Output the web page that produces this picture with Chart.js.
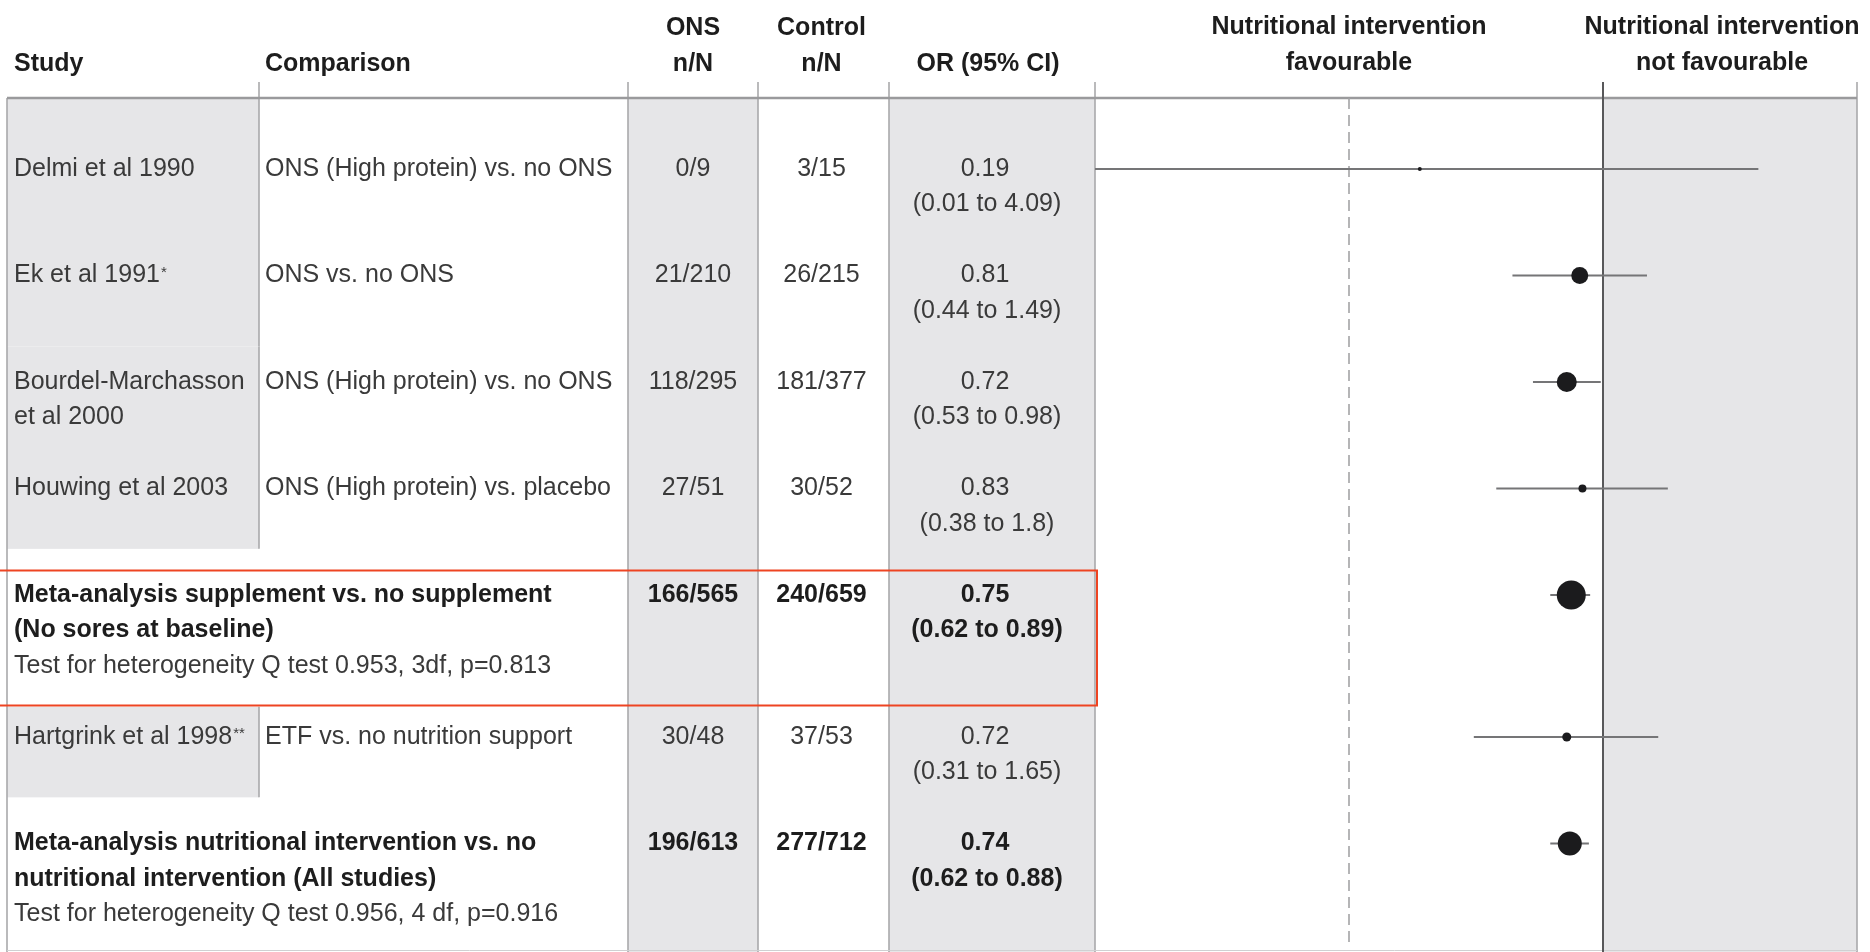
<!DOCTYPE html>
<html>
<head>
<meta charset="utf-8">
<script src="https://cdn.jsdelivr.net/npm/chart.js@4.4.0/dist/chart.umd.min.js"></script>
<style>
html,body{margin:0;padding:0;background:#fff;overflow:hidden}
canvas{display:block}
</style>
</head>
<body>
<canvas id="c" width="1870" height="952"></canvas>
<script>
// ---------- data ----------
const studies = [
  "Delmi et al 1990",
  "Ek et al 1991*",
  "Bourdel-Marchasson\net al 2000",
  "Houwing et al 2003",
  "Meta-analysis supplement vs. no supplement\n(No sores at baseline)",
  "Hartgrink et al 1998**",
  "Meta-analysis nutritional intervention vs. no\nnutritional intervention (All studies)"
];
const comparisons = [
  "ONS (High protein) vs. no ONS",
  "ONS vs. no ONS",
  "ONS (High protein) vs. no ONS",
  "ONS (High protein) vs. placebo",
  "",
  "ETF vs. no nutrition support",
  ""
];
const heterogeneity = [
  null, null, null, null,
  "Test for heterogeneity Q test 0.953, 3df, p=0.813",
  null,
  "Test for heterogeneity Q test 0.956, 4 df, p=0.916"
];
const isSummary = [false, false, false, false, true, false, true];
const onsN = ["0/9", "21/210", "118/295", "27/51", "166/565", "30/48", "196/613"];
const controlN = ["3/15", "26/215", "181/377", "30/52", "240/659", "37/53", "277/712"];
const orValue = [0.19, 0.81, 0.72, 0.83, 0.75, 0.72, 0.74];
const ciLow = [0.01, 0.44, 0.53, 0.38, 0.62, 0.31, 0.62];
const ciHigh = [4.09, 1.49, 0.98, 1.8, 0.89, 1.65, 0.88];
const headerCols = ["Study", "Comparison", "ONS\nn/N", "Control\nn/N", "OR (95% CI)"];
const sideHeaders = ["Nutritional intervention\nfavourable", "Nutritional intervention\nnot favourable"];

// ---------- layout (text-line units on the y scale) ----------
const rowLines = studies.map((s, i) => Math.max(s.split("\n").length, 2) + (heterogeneity[i] ? 1 : 0));
const rowPos = [];
{ let acc = 0; rowLines.forEach(n => { rowPos.push(acc); acc += n + 1; }); }

const COL = { left: 7, comp: 259, ons: 628, ctrl: 758, or: 889 };
const GREY = "#e6e6e8";
const LINE = "#a9a9ab";
const FONT = '"Liberation Sans", Arial, Helvetica, sans-serif';
const fReg = "25px " + FONT;
const fBold = "bold 25px " + FONT;
const fHead = "bold 25px " + FONT;
const cReg = "#3a3a3a";
const cBold = "#1d1d1d";

function drawText(ctx, s, x, y, align, font, color) {
  ctx.font = font; ctx.fillStyle = color; ctx.textAlign = align; ctx.textBaseline = "middle";
  const m = s.match(/^(.*?)(\*+)$/);
  if (m && align === "left") {
    ctx.fillText(m[1], x, y);
    const w = ctx.measureText(m[1]).width;
    ctx.font = "15px " + FONT;
    ctx.fillText(m[2], x + w + 1, y - 3);
  } else {
    ctx.fillText(s, x, y);
  }
}
function vline(ctx, x, y0, y1, color, w) {
  ctx.beginPath(); ctx.strokeStyle = color; ctx.lineWidth = w;
  ctx.moveTo(x, y0); ctx.lineTo(x, y1); ctx.stroke();
}

const tablePlugin = {
  id: "table",
  beforeDraw(chart) {
    const ctx = chart.ctx, ca = chart.chartArea;
    const xs = chart.scales.x, ys = chart.scales.y;
    const W = chart.width, H = chart.height;
    const top = ca.top, bottom = H;
    const x1 = xs.getPixelForValue(1);
    const plotL = ca.left, plotR = ca.right;
    const yp = v => ys.getPixelForValue(v);
    const n = studies.length;
    ctx.save();
    ctx.fillStyle = "#fff"; ctx.fillRect(0, 0, W, H);
    // column fills
    ctx.fillStyle = GREY;
    ctx.fillRect(COL.ons, top, COL.ctrl - COL.ons, bottom - top);
    ctx.fillRect(COL.or, top, plotL - COL.or, bottom - top);
    ctx.fillRect(x1, top, plotR - x1, bottom - top);
    // study cells (regular studies, contiguous when adjacent)
    studies.forEach((s, i) => {
      if (isSummary[i]) return;
      let t, b;
      if (i === 0) t = top;
      else if (!isSummary[i - 1]) t = yp(rowPos[i] - 1);
      else t = yp(rowPos[i] - 0.85);
      if (i + 1 < n && !isSummary[i + 1]) b = yp(rowPos[i + 1] - 1);
      else b = yp(rowPos[i] + rowLines[i] - 0.3);
      ctx.fillStyle = GREY;
      ctx.fillRect(COL.left, t, COL.comp - COL.left, b - t);
      vline(ctx, COL.comp, t, b, LINE, 1.6);
    });
    // vertical rules
    vline(ctx, COL.comp, 82, top, LINE, 1.6);
    vline(ctx, COL.left, top, bottom, LINE, 1.6);
    [COL.ons, COL.ctrl, COL.or, plotL, plotR].forEach(x => vline(ctx, x, 82, bottom, LINE, 1.6));
    // header rule
    ctx.beginPath(); ctx.strokeStyle = "#9a9a9c"; ctx.lineWidth = 2.5;
    ctx.moveTo(COL.left, top); ctx.lineTo(plotR, top); ctx.stroke();
    // bottom rule
    ctx.beginPath(); ctx.strokeStyle = "#d0d0d2"; ctx.lineWidth = 1;
    ctx.moveTo(COL.left, bottom - 1.5); ctx.lineTo(plotR, bottom - 1.5); ctx.stroke();

    // header text
    const hx = [[14, "left"], [265, "left"], [(COL.ons + COL.ctrl) / 2, "center"], [(COL.ctrl + COL.or) / 2 - 2, "center"], [(COL.or + plotL) / 2 - 4, "center"]];
    headerCols.forEach((h, i) => {
      const parts = h.split("\n");
      const ys2 = parts.length === 2 ? [28, 64] : [64];
      parts.forEach((p, k) => drawText(ctx, p, hx[i][0], ys2[k], hx[i][1], fHead, cBold));
    });
    const sx = [xs.getPixelForValue(0.1), (x1 + plotR) / 2 - 8];
    sideHeaders.forEach((h, i) => {
      h.split("\n").forEach((p, k) => drawText(ctx, p, sx[i], k === 0 ? 27 : 63, "center", fHead, cBold));
    });

    // rows
    studies.forEach((s, i) => {
      const p = rowPos[i];
      const bold = isSummary[i];
      const f = bold ? fBold : fReg, c = bold ? cBold : cReg;
      const sl = s.split("\n");
      sl.forEach((line, k) => drawText(ctx, line, 14, yp(p + k), "left", f, c));
      if (heterogeneity[i]) drawText(ctx, heterogeneity[i], 14, yp(p + sl.length), "left", fReg, cReg);
      if (comparisons[i]) drawText(ctx, comparisons[i], 265, yp(p), "left", fReg, cReg);
      drawText(ctx, onsN[i], (COL.ons + COL.ctrl) / 2, yp(p), "center", f, c);
      drawText(ctx, controlN[i], (COL.ctrl + COL.or) / 2 - 2, yp(p), "center", f, c);
      drawText(ctx, orValue[i].toFixed(2), (COL.or + plotL) / 2 - 7, yp(p), "center", f, c);
      drawText(ctx, "(" + ciLow[i] + " to " + ciHigh[i] + ")", (COL.or + plotL) / 2 - 5, yp(p + 1), "center", f, c);
    });
    ctx.restore();
  },
  beforeDatasetsDraw(chart) {
    const ctx = chart.ctx, ca = chart.chartArea, xs = chart.scales.x;
    ctx.save();
    const xd = xs.getPixelForValue(0.1);
    ctx.setLineDash([11, 6]);
    vline(ctx, xd, ca.top, ca.bottom - 8, "#a3a3a5", 1.6);
    ctx.setLineDash([]);
    vline(ctx, xs.getPixelForValue(1), 82, chart.height, "#58585a", 2);
    ctx.restore();
  },
  afterDraw(chart) {
    const ctx = chart.ctx, ys = chart.scales.y;
    ctx.save();
    ctx.strokeStyle = "#ee4422"; ctx.lineWidth = 2;
    studies.forEach((s, i) => {
      if (!isSummary[i] || i === studies.length - 1) return;
      const t = Math.round(ys.getPixelForValue(rowPos[i] - 0.7)) + 0.5;
      const b = Math.round(ys.getPixelForValue(rowPos[i] + rowLines[i] + 0.1)) + 0.5;
      const r = chart.chartArea.left + 2;
      ctx.beginPath();
      ctx.moveTo(0, t); ctx.lineTo(r, t); ctx.lineTo(r, b); ctx.lineTo(0, b);
      ctx.stroke();
    });
    ctx.restore();
  }
};

const pointData = orValue.map((v, i) => ({ x: v, y: rowPos[i] }));
const datasets = [{
  type: "scatter",
  data: pointData,
  pointRadius: [2, 8.5, 10, 4, 14.5, 4.5, 12],
  pointHoverRadius: [2, 8.5, 10, 4, 14.5, 4.5, 12],
  pointStyle: "circle",
  backgroundColor: "#1b1b1d",
  borderColor: "#1b1b1d",
  borderWidth: 0
}];
orValue.forEach((v, i) => {
  datasets.push({
    type: "line",
    data: [{ x: ciLow[i], y: rowPos[i] }, { x: ciHigh[i], y: rowPos[i] }],
    borderColor: "#757577",
    borderWidth: 1.8,
    pointRadius: 0,
    fill: false
  });
});

new Chart(document.getElementById("c"), {
  type: "scatter",
  data: { datasets },
  options: {
    responsive: false,
    animation: false,
    events: [],
    layout: { autoPadding: false, padding: { left: 1095, right: 13, top: 98, bottom: 2 } },
    plugins: { legend: { display: false }, tooltip: { enabled: false }, title: { display: false } },
    scales: {
      x: { type: "logarithmic", min: 0.01, max: 10, display: false },
      y: { type: "linear", reverse: true, min: -2, max: 22, display: false }
    }
  },
  plugins: [tablePlugin]
});
</script>
</body>
</html>
